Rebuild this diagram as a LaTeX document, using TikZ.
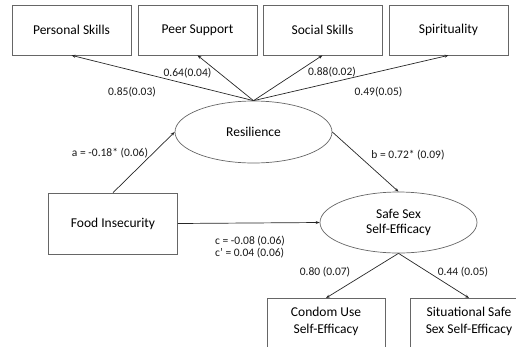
\documentclass[tikz,border=0pt]{standalone}
\usepackage{fontspec}
\setmainfont{Carlito}
\usetikzlibrary{arrows.meta,shapes.geometric}
\begin{document}
\begin{tikzpicture}[x=1pt,y=-1pt,
  box/.style={draw=black!60,line width=0.7pt,rectangle,minimum width=119pt,minimum height=50pt,inner sep=0pt,font=\fontsize{13.5}{15}\selectfont,align=center},
  latent/.style={draw=black!60,line width=0.7pt,ellipse,minimum width=157pt,minimum height=62pt,inner sep=0pt,font=\fontsize{13.5}{15}\selectfont,align=center},
  btext/.style={inner sep=0pt,font=\fontsize{13.5}{16.5}\selectfont,align=center},
  lab/.style={inner sep=0pt,font=\fontsize{11.5}{12.7}\selectfont,text=black!90},
  arr/.style={-{Stealth[length=4pt,width=3pt]},line width=0.7pt,black!85}]
\useasboundingbox (0,0) rectangle (516,346);
\clip (0,0) rectangle (516,346);
\node[box] (ps) at (71.5,30) {Personal Skills};
\node[box] (pe) at (197.5,30) {Peer Support};
\node[box] (so) at (322.5,30) {Social Skills};
\node[box] (sp) at (448.5,30) {Spirituality};
\node[latent] (res) at (253.5,132) {Resilience};
\node[box,minimum width=129pt,minimum height=61pt] (food) at (113,223.5) {Food Insecurity};
\node[latent,minimum height=61pt] (safe) at (398.5,222.5) {Safe Sex\\Self-Efficacy};
\node[box,minimum width=118pt,minimum height=70pt,anchor=north] (cu) at (326,298) {};
\node[box,minimum width=118pt,minimum height=70pt,anchor=north] (ss) at (469,298) {};
\node[btext] (cut) at (326,321.5) {Condom Use\\Self-Efficacy};
\node[btext] (sst) at (469,321.5) {Situational Safe\\Sex Self-Efficacy};
\draw[arr] (res.north) -- (ps.south);
\draw[arr] (res.north) -- (pe.south);
\draw[arr] (res.north) -- (so.south);
\draw[arr] (res.north) -- (sp.south);
\draw[arr] (food.north) -- (res.west);
\draw[arr] (res.east) -- (safe.north);
\draw[arr] (food.east) -- (safe.west);
\draw[arr] (safe.south) -- (cu.north);
\draw[arr] (safe.south) -- (ss.north);
\node[lab] (l1) at (132,92.5) {0.85(0.03)};
\node[lab] (l2) at (187.5,73) {0.64(0.04)};
\node[lab] (l3) at (332,72.5) {0.88(0.02)};
\node[lab] (l4) at (378.5,92.5) {0.49(0.05)};
\node[lab] (la) at (110,153) {a = -0.18* (0.06)};
\node[lab] (lb) at (408,155) {b = 0.72* (0.09)};
\node[lab,align=left] (lc) at (250,247) {c = -0.08 (0.06)\\c’ = 0.04 (0.06)};
\node[lab] (l5) at (325,272) {0.80 (0.07)};
\node[lab] (l6) at (463,272) {0.44 (0.05)};
\end{tikzpicture}
\end{document}
